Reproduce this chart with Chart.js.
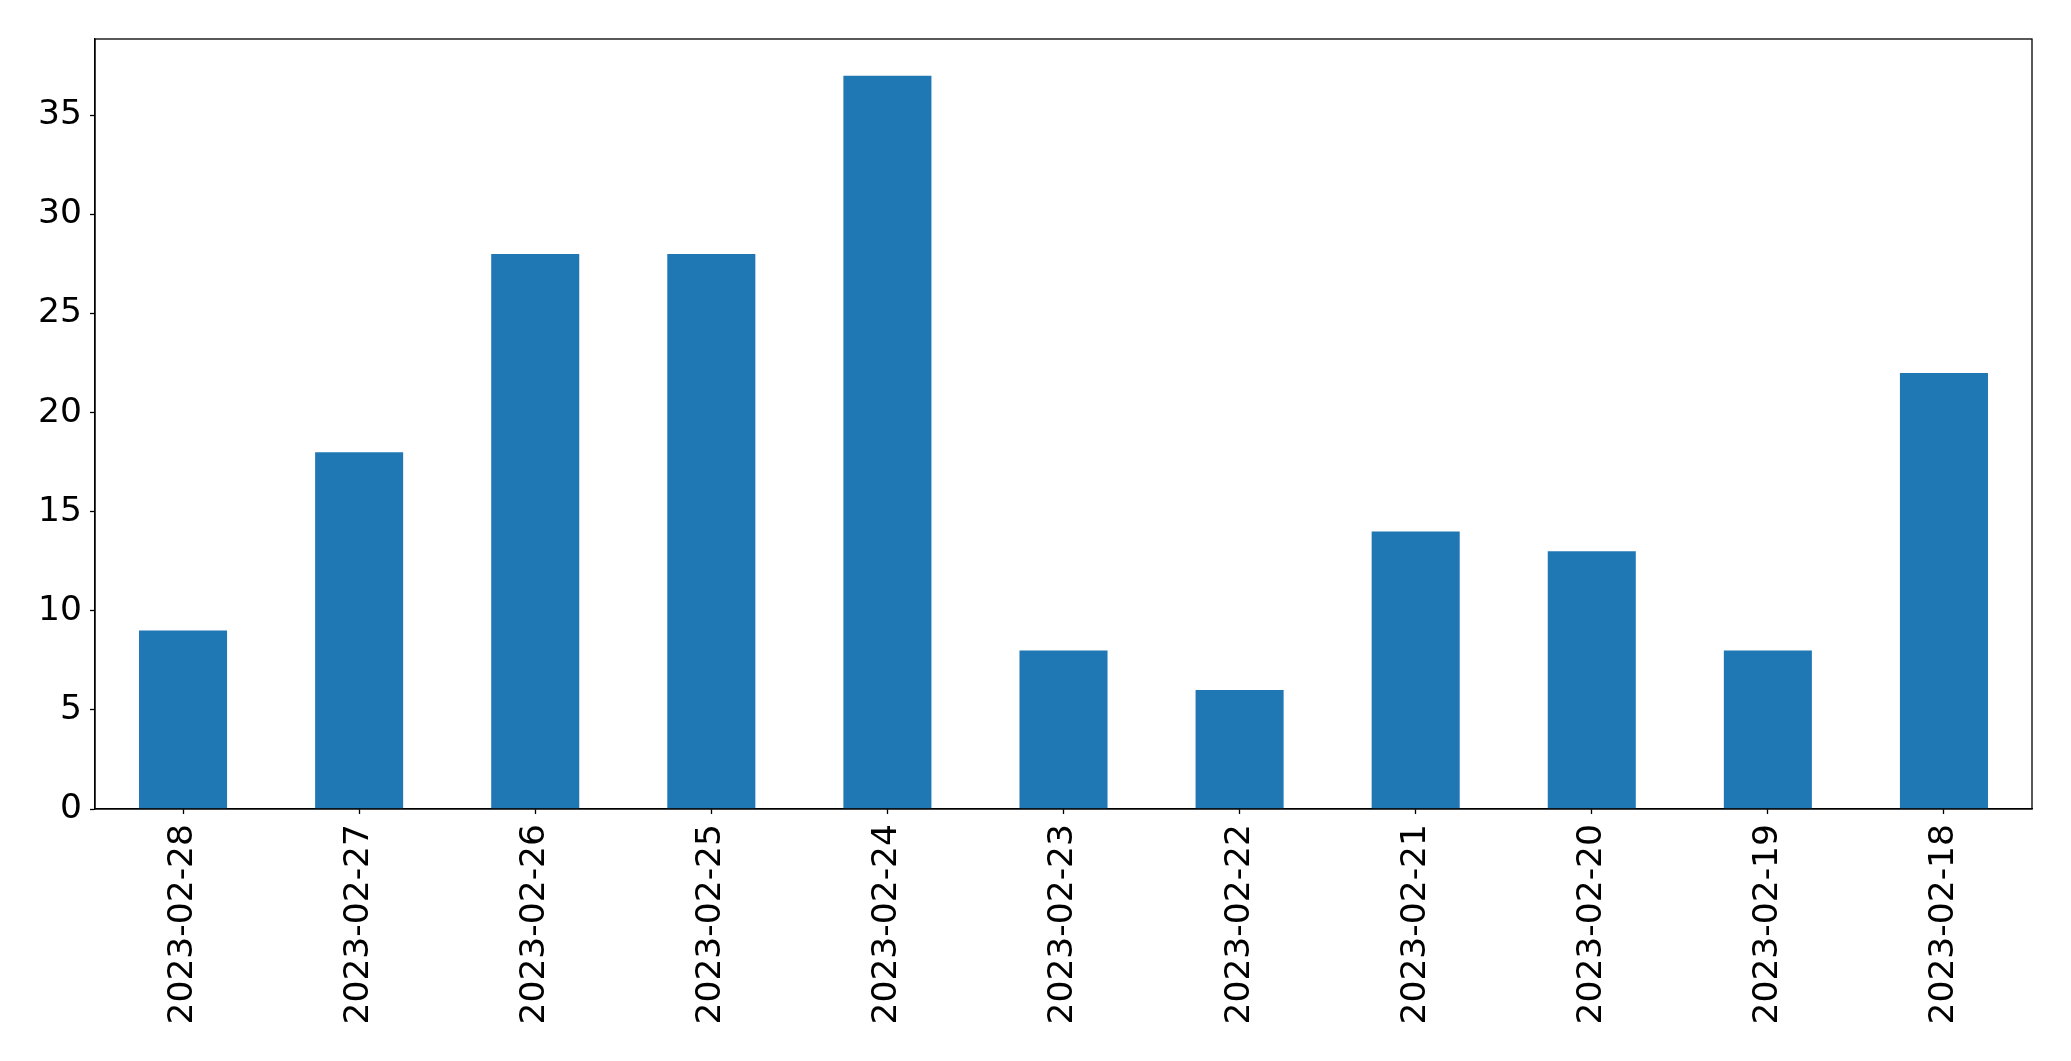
<!DOCTYPE html>
<html>
<head>
<meta charset="utf-8">
<script src="https://cdn.jsdelivr.net/npm/chart.js@4"></script>
<style>
  body { margin: 0; background: #fff; }
  canvas { display: block; }
</style>
</head>
<body>
<canvas id="chart" width="2071" height="1061"></canvas>
<script>
// data
const dates = ['2023-02-28', '2023-02-27', '2023-02-26', '2023-02-25', '2023-02-24',
    '2023-02-23', '2023-02-22', '2023-02-21', '2023-02-20', '2023-02-19', '2023-02-18'];
const counts = [9, 18, 28, 28, 37, 8, 6, 14, 13, 8, 22];
const yTickStep = 5;

// matplotlib-style box around the plot area
const frame = {
    id: 'frame',
    afterDraw(chart) {
        const a = chart.chartArea;
        const ctx = chart.ctx;
        ctx.save();
        ctx.strokeStyle = '#000';
        ctx.lineWidth = 1.3;
        ctx.strokeRect(a.left, a.top, a.right - a.left, a.bottom - a.top);
        ctx.restore();
    }
};

const font = { family: '"DejaVu Sans"', size: 34.5 };

new Chart(document.getElementById('chart').getContext('2d'), {
    type: 'bar',
    data: {
        labels: dates,
        datasets: [{
            data: counts,
            backgroundColor: '#1f77b4',
            borderWidth: 0,
            categoryPercentage: 1.0,
            barPercentage: 0.5
        }]
    },
    options: {
        responsive: false,
        animation: false,
        layout: { padding: { top: 39, right: 39, left: 0, bottom: 0 } },
        plugins: { legend: { display: false }, tooltip: { enabled: false } },
        scales: {
            x: {
                offset: true,
                grid: { offset: false, drawOnChartArea: false, tickLength: 5, color: '#000', tickWidth: 1.3 },
                border: { color: '#000', width: 1.3 },
                ticks: { color: '#000', font: font, minRotation: 90, maxRotation: 90, padding: 10, autoSkip: false },
                afterFit(scale) { scale.height = 252; }
            },
            y: {
                min: 0,
                max: Math.max(...counts) * 1.05,
                grid: { drawOnChartArea: false, tickLength: 5, color: '#000', tickWidth: 1.3 },
                border: { color: '#000', width: 1.3 },
                ticks: { color: '#000', font: font, stepSize: yTickStep, includeBounds: false, padding: 8 },
                afterFit(scale) { scale.width = 95; }
            }
        }
    },
    plugins: [frame]
});
</script>
</body>
</html>
